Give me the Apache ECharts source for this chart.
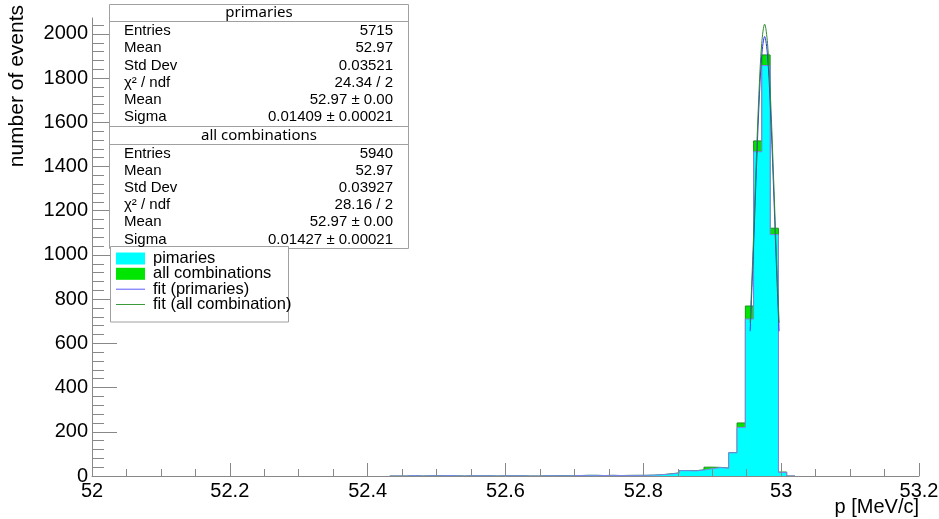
<!DOCTYPE html>
<html><head><meta charset="utf-8">
<script src="https://cdn.jsdelivr.net/npm/echarts@6/dist/echarts.min.js"></script>
<style>html,body{margin:0;padding:0;background:#fff}#c{width:939px;height:519px}</style>
</head><body><div id="c"></div>
<script>
// ---- data ----
const binLow = 52.432;      // lower edge of the first listed bin
const binWidth = 0.012;     // 100 bins over [52, 53.2]
const primCounts = [0,0,2,0,1,1,2,1,0,1,1,1,0,1,1,1,0,0,1,1,1,1,2,3,3,2,3,2,2,3,3,4,6,9,13,24,23,27,33,38,35,105,220,710,1467,1857,1092,16,0];
const allCounts  = [0,0,2,0,1,2,2,1,0,1,1,1,0,1,1,1,0,0,1,1,2,1,2,3,3,2,3,2,3,3,3,4,6,10,14,24,24,28,40,39,36,106,240,769,1516,1905,1121,18,0];
const fitX    = [52.955,52.9592,52.9634,52.9676,52.9718,52.976,52.9802,52.9844,52.9886,52.9928,52.997];
const fitPrim = [655,977,1333,1664,1902,1988,1902,1664,1333,977,655];
const fitAll  = [692,1022,1384,1719,1957,2044,1957,1719,1384,1022,692];
const xTicks = [52,52.2,52.4,52.6,52.8,53,53.2];
const yTicks = [0,200,400,600,800,1000,1200,1400,1600,1800,2000];
const statNames = ['Entries','Mean','Std Dev','\u03C7\u00B2 / ndf','Mean','Sigma'];
const primStats = ['5715','52.97','0.03521','24.34 / 2','52.97 \u00B1 0.00','0.01409 \u00B1 0.00021'];
const allStats  = ['5940','52.97','0.03927','28.16 / 2','52.97 \u00B1 0.00','0.01427 \u00B1 0.00021'];
const statTitles = ['primaries','all combinations'];
const legendLabels = ['pimaries','all combinations','fit (primaries)','fit (all combination)'];

// ---- build ----
function edge(i){ return +(binLow + i*binWidth).toFixed(4); }
function stepData(c){ const d=[]; for(let i=0;i<c.length;i++) d.push([edge(i),c[i]]); d.push([edge(c.length),0]); return d; }
function pairs(xs,ys){ return xs.map((x,i)=>[x,ys[i]]); }
const yMinor=[]; for(let i=0;i<yTicks.length;i++){ const s=200/5; for(let j=1;j<5;j++){ yMinor.push(yTicks[i]+j*s);} }
const YMAX = 2072;
const AX='"Liberation Sans", Arial, sans-serif';
const tickCol='#888';

const g=[];
// stats box
const bx=109.5, bw=299, by=4.5, bh=244;
g.push({type:'rect',shape:{x:bx,y:by,width:bw,height:bh},style:{fill:'#fff',stroke:'#a0a0a0',lineWidth:1},z:100});
[21.5,126.5,144.5].forEach(y=>g.push({type:'line',shape:{x1:bx,y1:y,x2:bx+bw,y2:y},style:{stroke:'#a0a0a0',lineWidth:1},z:101}));
g.push({type:'text',x:259,y:12.5,style:{text:statTitles[0],font:'15px "Noto Sans"',fill:'#000',align:'center',verticalAlign:'middle'},z:102});
g.push({type:'text',x:259,y:135.5,style:{text:statTitles[1],font:'15px "Noto Sans"',fill:'#000',align:'center',verticalAlign:'middle'},z:102});
statNames.forEach((n,i)=>{
  const y1=31+i*17.2, y2=153.5+i*17.2;
  g.push({type:'text',x:124,y:y1,style:{text:n,font:'15px '+AX,fill:'#000',align:'left',verticalAlign:'middle'},z:102});
  g.push({type:'text',x:393,y:y1,style:{text:primStats[i],font:'15px '+AX,fill:'#000',align:'right',verticalAlign:'middle'},z:102});
  g.push({type:'text',x:124,y:y2,style:{text:n,font:'15px '+AX,fill:'#000',align:'left',verticalAlign:'middle'},z:102});
  g.push({type:'text',x:393,y:y2,style:{text:allStats[i],font:'15px '+AX,fill:'#000',align:'right',verticalAlign:'middle'},z:102});
});
// legend box
g.push({type:'rect',shape:{x:110.5,y:246.5,width:178,height:75.5},style:{fill:'#fff',stroke:'#a0a0a0',lineWidth:1},z:100});
const lys=[258.5,273.8,289.2,304.5];
g.push({type:'rect',shape:{x:116,y:lys[0]-6,width:29,height:12},style:{fill:'#00ffff'},z:101});
g.push({type:'rect',shape:{x:116,y:lys[1]-6,width:29,height:12},style:{fill:'#00e600'},z:101});
g.push({type:'line',shape:{x1:116,y1:lys[2],x2:145,y2:lys[2]},style:{stroke:'#5a5aff',lineWidth:1},z:101});
g.push({type:'line',shape:{x1:116,y1:lys[3],x2:145,y2:lys[3]},style:{stroke:'#3a9a3a',lineWidth:1},z:101});
legendLabels.forEach((t,i)=>g.push({type:'text',x:153,y:lys[i],style:{text:t,font:'16.5px '+AX,fill:'#000',align:'left',verticalAlign:'middle'},z:102}));
// axis titles
g.push({type:'text',x:17,y:5,rotation:Math.PI/2,style:{text:'number of events',font:'21px '+AX,fill:'#000',align:'right',verticalAlign:'middle'},z:50});
g.push({type:'text',x:919,y:507,style:{text:'p [MeV/c]',font:'20px '+AX,fill:'#000',align:'right',verticalAlign:'middle'},z:50});

const chart=echarts.init(document.getElementById('c'),null,{renderer:'canvas'});
chart.setOption({
  animation:false,
  backgroundColor:'#fff',
  grid:{left:92,top:18,width:827,height:458,containLabel:false,outerBoundsMode:'none'},
  xAxis:[{type:'value',min:52,max:53.2,interval:0.2,z:10,
    axisLine:{show:true,onZero:false,lineStyle:{color:tickCol,width:1}},
    axisTick:{show:true,inside:true,length:13,lineStyle:{color:tickCol}},
    minorTick:{show:true,splitNumber:4,length:7,lineStyle:{color:tickCol}},
    axisLabel:{fontSize:20,color:'#000',fontFamily:AX,margin:5,customValues:xTicks,formatter:v=>String(v)},
    splitLine:{show:false}}],
  yAxis:[{type:'value',min:0,max:YMAX,interval:200,z:10,
    axisLine:{show:true,lineStyle:{color:tickCol,width:1}},
    axisTick:{show:true,inside:true,length:25,customValues:yTicks,lineStyle:{color:tickCol}},
    axisLabel:{fontSize:20,color:'#000',fontFamily:AX,margin:4,customValues:yTicks,formatter:v=>String(v)},
    splitLine:{show:false}},
    {type:'value',min:0,max:YMAX,position:'left',z:10,
    axisLine:{show:false},axisLabel:{show:false},splitLine:{show:false},
    axisTick:{show:true,inside:true,length:12,customValues:yMinor,lineStyle:{color:tickCol}}}],
  series:[
    {type:'line',name:'all combinations',step:'end',data:stepData(allCounts),symbol:'none',z:2,
      lineStyle:{color:'#1f8f1f',width:1},areaStyle:{color:'#00e600',opacity:1,origin:'start'}},
    {type:'line',name:'pimaries',step:'end',data:stepData(primCounts),symbol:'none',z:3,
      lineStyle:{color:'#8080f0',width:1},areaStyle:{color:'#00ffff',opacity:1,origin:'start'}},
    {type:'line',name:'fit (primaries)',data:pairs(fitX,fitPrim),symbol:'none',smooth:0.35,z:4,
      lineStyle:{color:'#3030ff',width:1}},
    {type:'line',name:'fit (all combination)',data:pairs(fitX,fitAll),symbol:'none',smooth:0.35,z:5,
      lineStyle:{color:'#2e8b2e',width:1}}
  ],
  graphic:{elements:g}
});
</script></body></html>
